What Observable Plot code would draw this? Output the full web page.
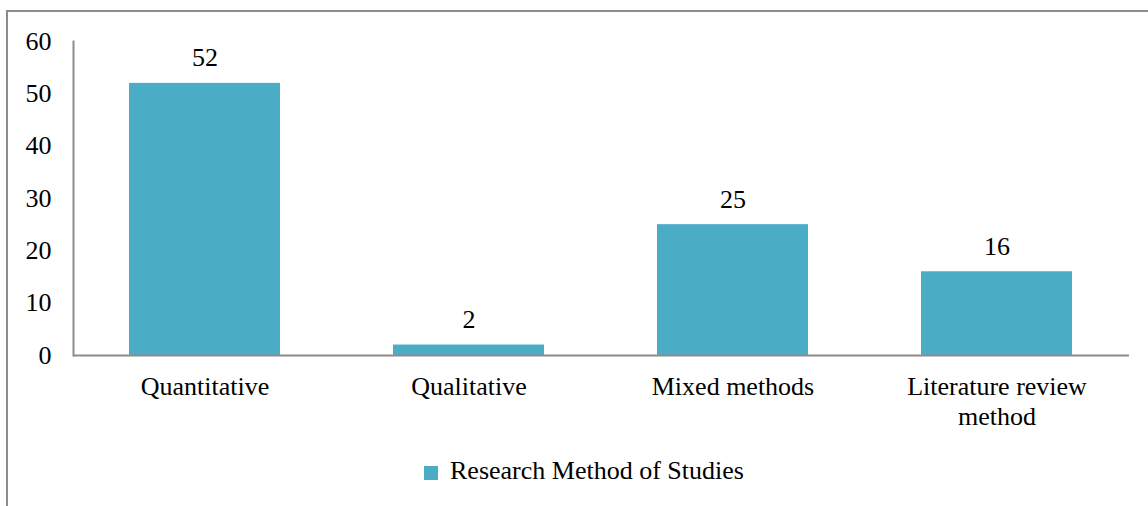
<!DOCTYPE html>
<html>
<head>
<meta charset="utf-8">
<script src="https://cdn.jsdelivr.net/npm/d3@7"></script>
<script src="https://cdn.jsdelivr.net/npm/@observablehq/plot@0.6"></script>
<style>
  html, body { margin: 0; padding: 0; background: #fff; }
  #wrap { position: relative; width: 1148px; height: 506px; overflow: hidden; font-family: "Liberation Serif", "Times New Roman", serif; }
  #border { position: absolute; left: 6px; top: 10px; width: 1200px; height: 600px; border-left: 2px solid #8c8c8c; border-top: 2px solid #8c8c8c; }
  #chart { position: absolute; left: 0; top: 0; }
  #chart svg text { font-family: "Liberation Serif", "Times New Roman", serif; }
  #legend { position: absolute; left: 424px; top: 456px; display: flex; align-items: center; font-size: 26px; color: #000; }
  #legend .sw { width: 14px; height: 14px; background: #4BACC6; margin-right: 12px; margin-top: 3px; }
</style>
</head>
<body>
<div id="wrap">
  <div id="border"></div>
  <div id="chart"></div>
  <div id="legend"><span class="sw"></span><span id="legtext"></span></div>
</div>
<script>
const categories = ["Quantitative", "Qualitative", "Mixed methods", "Literature review\nmethod"];
const values = [52, 2, 25, 16];
const yTicks = [0, 10, 20, 30, 40, 50, 60];
const seriesName = "Research Method of Studies";

const data = categories.map((c, i) => ({category: c, value: values[i]}));
document.getElementById("legtext").textContent = seriesName;

const chart = Plot.plot({
  width: 1148,
  height: 440,
  marginLeft: 73,
  marginRight: 19,
  marginTop: 41,
  marginBottom: 85,
  style: {fontFamily: "'Liberation Serif', 'Times New Roman', serif", fontSize: "26px", background: "transparent", color: "#000"},
  x: {domain: categories, paddingInner: 0.428, paddingOuter: 0.214},
  y: {domain: [0, 60]},
  marks: [
    Plot.barY(data, {x: "category", y: "value", fill: "#4BACC6"}),
    Plot.frame({anchor: "left", stroke: "#8c8c8c", strokeWidth: 2}),
    Plot.ruleY([0], {stroke: "#8c8c8c", strokeWidth: 2}),
    Plot.axisY({ticks: yTicks, tickSize: 0, tickPadding: 22, label: null, fontSize: 26, fill: "#000"}),
    Plot.axisX({tickSize: 0, tickPadding: 18, label: null, fontSize: 26, lineHeight: 1.15, fill: "#000"}),
    Plot.text(data, {x: "category", y: "value", text: d => String(d.value), lineAnchor: "bottom", dy: -17, fontSize: 26, fill: "#000"})
  ]
});
document.getElementById("chart").appendChild(chart);
</script>
</body>
</html>
